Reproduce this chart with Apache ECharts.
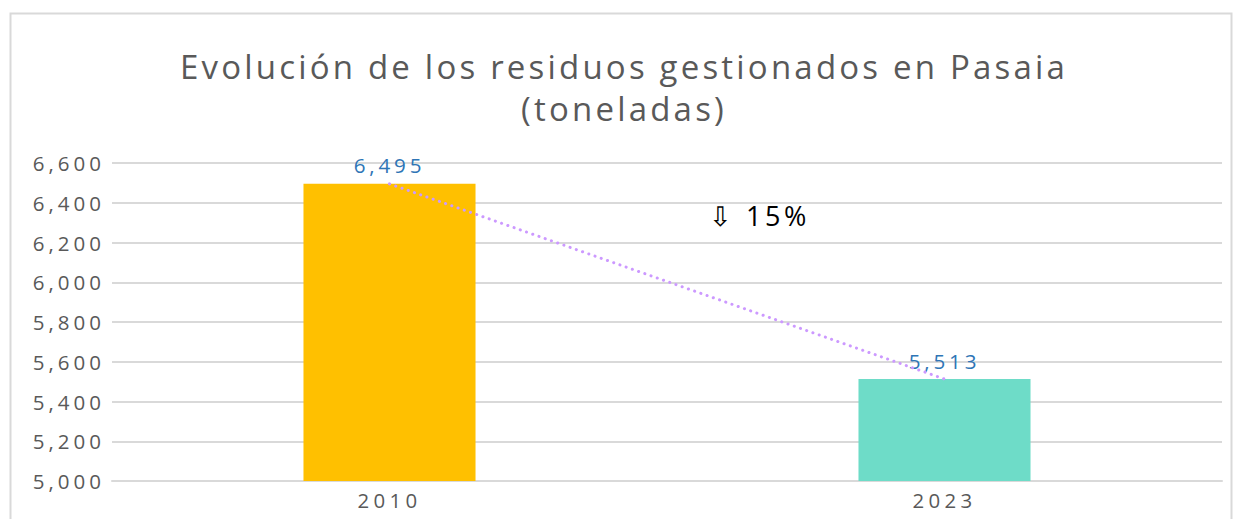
<!DOCTYPE html>
<html>
<head>
<meta charset="utf-8">
<script src="https://cdn.jsdelivr.net/npm/echarts@6/dist/echarts.min.js"></script>
<style>
html,body{margin:0;padding:0;background:#fff;}
#c{width:1234px;height:519px;}
#c text[style*="33px"]{letter-spacing:3.2px;}
#c text[style*="20.5px"]{letter-spacing:4px;}
#c text[style*="20.4px"]{letter-spacing:4.3px;}
#c text[style*="20.6px"]{letter-spacing:3.8px;}
#c text[style*="27px"]{letter-spacing:3.5px;}
</style>
</head>
<body>
<div id="c"></div>
<script>
const categories = ['2010', '2023'];
const values = [6495, 5513];
const barColors = ['#ffc000', '#6edcc8'];
const yTicks = { min: 5000, max: 6600, interval: 200 };
const titleText = 'Evolución de los residuos gestionados en Pasaia\n(toneladas)';
const changeText = '⇩ 15%';

const chart = echarts.init(document.getElementById('c'), null, { renderer: 'svg' });
const font = '"Open Sans", "Noto Sans", sans-serif';
chart.setOption({
  animation: false,
  grid: { left: 112, right: 12, top: 163, bottom: 38, containLabel: false },
  xAxis: {
    type: 'category',
    data: categories,
    axisLine: { show: true, lineStyle: { color: '#d9d9d9', width: 2 } },
    axisTick: { show: false },
    axisLabel: { fontFamily: font, fontSize: 20.4, color: '#595959', margin: 9 }
  },
  yAxis: {
    type: 'value',
    min: yTicks.min, max: yTicks.max, interval: yTicks.interval,
    axisLine: { show: false },
    axisTick: { show: false },
    splitLine: { lineStyle: { color: '#d9d9d9', width: 2 } },
    axisLabel: {
      fontFamily: font, fontSize: 20.5, color: '#595959', margin: 7,
      formatter: v => v.toLocaleString('en-US')
    }
  },
  series: [
    {
      type: 'bar',
      barWidth: '31%',
      data: values.map((v, i) => ({ value: v, itemStyle: { color: barColors[i] } })),
      label: {
        show: true, position: 'top', distance: 8,
        fontFamily: font, fontSize: 20.6, color: '#2e75b6',
        formatter: p => p.value.toLocaleString('en-US')
      },
      z: 2
    },
    {
      type: 'line',
      data: values,
      symbol: 'none',
      lineStyle: { color: '#cc99ff', width: 3, type: [0.1, 6.5], cap: 'round' },
      z: 3
    }
  ],
  graphic: [
    {
      type: 'rect',
      shape: { x: 10.5, y: 13.5, width: 1221, height: 520 },
      style: { fill: 'none', stroke: '#d9d9d9', lineWidth: 2 },
      silent: true, z: -1
    },
    {
      type: 'text',
      x: 624, y: 45,
      style: {
        text: titleText, textAlign: 'center', textVerticalAlign: 'top',
        fontFamily: font, fontSize: 33, fill: '#595959', lineHeight: 42
      }
    },
    {
      type: 'text',
      x: 709, y: 202,
      style: { text: changeText, fontFamily: font, fontSize: 27, fill: '#000' }
    }
  ]
});
</script>
</body>
</html>
